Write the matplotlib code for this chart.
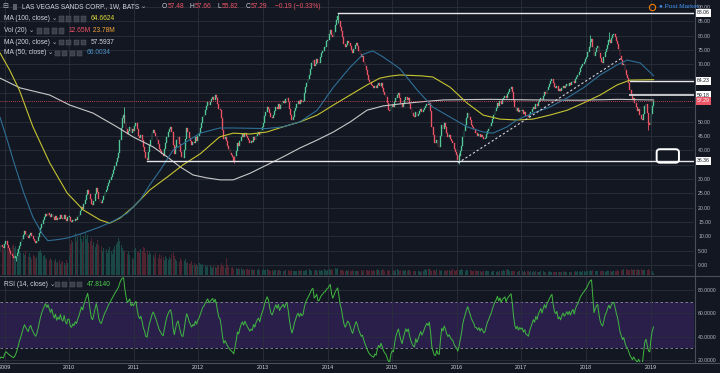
import numpy as np
import pandas as pd
import matplotlib
matplotlib.use("Agg")
import matplotlib.pyplot as plt
from matplotlib.lines import Line2D
from matplotlib.patches import Rectangle, FancyBboxPatch
import matplotlib.transforms as mtrans

plt.rcParams['font.family'] = ['Liberation Sans', 'DejaVu Sans']

# weekly closes (Jun 2008 .. Jan 2019); 2008 is warm-up for the RSI
c2008 = [58.0, 54.5, 50.2, 47.1, 45.8, 43.0, 47.6, 45.2, 49.8, 52.3, 50.1, 47.4, 44.6,
         41.2, 37.8, 39.5, 35.1, 28.4, 22.6, 15.8, 19.4, 12.1, 8.3, 4.6, 3.4, 4.8,
         6.4, 7.1, 6.2, 5.9]
c2009 = [7.4, 8.2, 7.0, 5.9, 4.8, 3.9, 3.1, 2.3, 2.6, 3.3, 4.2, 5.5, 6.8,
         7.9, 9.2, 10.6, 11.8, 10.9, 10.1, 9.4, 10.6, 11.2, 10.0, 9.1, 8.3, 7.7,
         8.4, 9.6, 11.2, 12.9, 14.3, 15.6, 16.8, 17.9, 17.1, 18.2, 17.4, 16.6, 17.8,
         16.7, 15.8, 17.0, 15.6, 16.5, 16.0, 17.4, 16.3, 15.9, 17.5, 16.2, 15.5, 16.8]
c2010 = [16.8, 15.2, 14.9, 15.7, 15.3, 16.2, 15.8, 16.9, 17.6, 18.8, 20.1, 19.6, 21.4,
         22.8, 24.5, 26.2, 24.9, 23.1, 21.2, 20.8, 22.4, 24.6, 26.8, 25.3, 23.0, 21.9,
         21.5, 22.8, 24.1, 25.3, 26.2, 27.4, 28.7, 29.5, 30.8, 31.9, 33.2, 34.6, 35.9,
         37.4, 39.2, 43.6, 47.9, 51.4, 52.3, 49.6, 47.4, 45.6, 46.8, 48.3, 46.2, 47.5, 46.9]
c2011 = [48.6, 49.7, 47.3, 45.1, 44.2, 45.3, 43.5, 41.0, 39.6, 37.2, 36.8, 39.4, 41.9,
         43.7, 45.9, 47.2, 46.1, 45.0, 43.6, 42.1, 40.5, 39.8, 38.7, 38.2, 40.4, 42.6,
         44.8, 46.3, 47.5, 48.1, 46.4, 42.0, 38.9, 41.3, 43.7, 44.6, 42.1, 39.5, 37.6,
         37.3, 40.2, 44.1, 47.8, 46.4, 44.3, 43.1, 41.8, 43.0, 42.4, 44.5, 43.2, 45.1]
c2012 = [46.0, 47.8, 49.6, 51.5, 52.4, 54.1, 55.6, 56.9, 55.8, 56.7, 57.9, 58.5, 57.6,
         59.4, 58.2, 56.3, 54.6, 54.1, 51.4, 47.2, 43.8, 44.6, 43.2, 41.5, 40.4, 39.1,
         38.3, 37.6, 36.4, 38.0, 39.8, 42.4, 41.6, 43.4, 44.8, 45.7, 44.6, 46.0, 45.1,
         44.2, 43.5, 42.7, 43.3, 42.9, 44.5, 43.7, 45.0, 45.8, 46.3, 45.4, 47.1, 48.3]
c2013 = [49.6, 51.9, 53.5, 55.2, 54.6, 53.0, 51.6, 51.2, 52.3, 53.8, 55.1, 54.3, 56.0,
         54.6, 55.8, 56.4, 57.2, 56.5, 57.9, 58.4, 56.9, 54.6, 52.4, 50.7, 51.8, 53.6,
         54.9, 56.3, 57.1, 56.2, 57.4, 56.8, 57.2, 59.9, 62.1, 63.6, 64.9, 66.4, 68.3,
         70.6, 71.5, 69.4, 70.3, 71.9, 70.4, 70.6, 72.5, 73.8, 74.6, 75.9, 76.2, 78.1]
c2014 = [78.6, 80.5, 82.1, 80.3, 79.4, 81.2, 83.6, 85.4, 86.9, 85.1, 83.0, 81.8, 79.4,
         77.2, 75.9, 76.8, 78.1, 77.6, 76.4, 74.9, 73.8, 75.2, 76.6, 77.5, 76.3, 74.7,
         73.6, 72.5, 72.8, 71.0, 69.4, 67.9, 66.2, 64.6, 63.7, 62.9, 62.3, 61.8, 62.4,
         61.7, 62.8, 63.5, 62.6, 63.4, 61.9, 60.3, 59.2, 58.5, 56.4, 54.1, 53.8, 55.2]
c2015 = [55.8, 55.2, 56.9, 58.4, 59.3, 60.1, 58.2, 56.4, 55.0, 56.3, 57.5, 58.6, 57.7,
         58.4, 56.2, 54.5, 53.1, 52.0, 51.6, 53.4, 51.9, 52.8, 53.6, 54.5, 53.3, 54.0,
         54.8, 55.6, 56.2, 55.7, 56.5, 53.8, 48.1, 45.3, 42.6, 42.4, 43.6, 41.2, 41.0,
         44.9, 48.8, 47.6, 49.5, 48.2, 46.0, 44.7, 45.3, 43.9, 43.1, 42.5, 40.6, 39.4]
c2016 = [38.5, 36.7, 37.9, 39.8, 41.6, 44.7, 46.9, 48.8, 51.2, 53.0, 51.7, 50.5, 49.0,
         48.2, 47.3, 46.0, 45.9, 45.1, 45.8, 44.6, 45.4, 44.8, 43.9, 44.3, 45.6, 46.8,
         47.5, 48.6, 49.5, 51.0, 52.4, 53.8, 54.7, 56.5, 55.6, 57.2, 56.3, 57.8, 58.3,
         59.0, 58.1, 59.7, 60.5, 61.3, 62.0, 60.4, 57.6, 55.1, 53.9, 54.7, 53.5, 54.2, 53.7]
c2017 = [54.0, 52.8, 53.4, 52.1, 51.9, 51.5, 52.6, 53.4, 54.3, 55.1, 54.6, 56.0, 55.4,
         56.8, 57.5, 58.4, 57.6, 58.9, 60.2, 59.6, 61.1, 62.0, 63.1, 64.2, 65.0, 63.4,
         62.1, 61.6, 62.3, 60.8, 61.3, 60.7, 61.8, 62.5, 61.9, 62.4, 63.1, 62.6, 63.4,
         62.8, 63.7, 64.2, 63.5, 64.8, 65.7, 66.3, 67.4, 68.6, 69.4, 70.2, 70.8, 71.9]
c2018 = [72.5, 74.3, 76.1, 77.9, 78.8, 76.2, 72.9, 74.4, 75.8, 76.3, 73.9, 72.1, 71.0,
         70.6, 72.4, 74.3, 75.2, 76.9, 78.4, 77.6, 79.2, 80.1, 80.5, 79.4, 78.1, 77.0,
         75.2, 72.8, 71.4, 69.8, 70.3, 68.1, 66.2, 65.4, 63.6, 61.2, 59.5, 57.7, 58.3,
         56.6, 55.2, 53.9, 54.5, 52.4, 51.0, 50.5, 52.8, 55.4, 56.2, 53.1, 49.6, 48.9]
c2019 = [52.7, 55.6, 57.29]

# weekly volume, millions
v2008 = [60, 65, 70, 72, 68, 75, 80, 78, 70, 66, 72, 80, 90, 105, 120,
         110, 140, 180, 220, 260, 240, 260, 280, 250, 230, 200, 180, 170, 160, 150]
v2009 = [165, 150, 172, 140, 158, 148, 170, 182, 160, 175, 155, 138, 145,
         130, 152, 128, 118, 140, 125, 110, 132, 105, 98, 120, 112, 95,
         108, 135, 142, 150, 128, 115, 122, 104, 96, 110, 88, 100, 92,
         78, 85, 96, 72, 80, 90, 68, 76, 84, 70, 62, 88, 74]
v2010 = [120, 185, 210, 195, 232, 248, 205, 226, 190, 240, 215, 198, 230,
         250, 212, 236, 188, 205, 222, 178, 196, 168, 185, 210, 176, 158,
         172, 145, 160, 138, 152, 130, 148, 165, 142, 126, 155, 170, 182,
         196, 220, 205, 178, 160, 142, 150, 132, 125, 140, 118, 112, 104, 98]
v2011 = [150, 162, 138, 145, 128, 155, 140, 166, 158, 132, 148, 120, 135,
         126, 142, 118, 110, 130, 112, 104, 125, 96, 118, 108, 92, 115,
         100, 88, 106, 95, 124, 138, 112, 98, 86, 94, 80, 102, 90,
         76, 84, 98, 70, 78, 66, 74, 82, 62, 70, 58, 66, 60]
v2012 = [72, 64, 58, 68, 55, 62, 50, 58, 46, 54, 48, 42, 52,
         46, 40, 56, 62, 48, 70, 58, 52, 44, 100, 62, 48, 55,
         42, 50, 38, 45, 40, 36, 44, 34, 40, 32, 38, 30, 36,
         34, 28, 33, 30, 38, 28, 32, 26, 30, 35, 27, 31, 29]
v2013 = [36, 30, 27, 33, 28, 31, 26, 29, 24, 30, 27, 25, 32,
         28, 24, 30, 26, 23, 29, 33, 27, 25, 22, 28, 24, 26,
         21, 25, 23, 27, 22, 30, 26, 24, 28, 32, 27, 35, 30,
         26, 29, 24, 31, 27, 25, 28, 23, 30, 26, 33, 28, 25]
v2014 = [30, 34, 28, 36, 31, 38, 42, 35, 40, 33, 29, 27, 31,
         26, 24, 28, 23, 30, 25, 22, 27, 24, 21, 26, 23, 25,
         22, 28, 24, 30, 33, 27, 29, 25, 31, 28, 24, 30, 26,
         29, 34, 27, 25, 31, 36, 28, 26, 32, 29, 24, 27, 23]
v2015 = [26, 30, 24, 28, 33, 27, 25, 29, 23, 27, 25, 30, 26,
         31, 28, 24, 27, 22, 26, 24, 21, 25, 23, 20, 24, 22,
         27, 34, 30, 38, 33, 29, 26, 31, 28, 24, 35, 30, 27,
         25, 29, 26, 23, 28, 25, 31, 27, 24, 30, 33, 28, 26]
v2016 = [30, 35, 32, 28, 34, 31, 29, 26, 30, 27, 25, 28, 24,
         26, 23, 27, 22, 25, 21, 24, 20, 23, 26, 22, 25, 21,
         24, 22, 19, 23, 21, 25, 20, 22, 19, 24, 21, 23, 27,
         25, 30, 36, 28, 24, 26, 22, 25, 21, 23, 20, 24, 22, 21]
v2017 = [22, 19, 23, 20, 24, 21, 18, 22, 20, 23, 19, 21, 18,
         20, 17, 21, 19, 22, 18, 20, 17, 19, 21, 18, 20, 17,
         19, 16, 18, 20, 17, 19, 16, 18, 21, 17, 19, 16, 18,
         20, 17, 22, 19, 21, 18, 23, 20, 22, 19, 24, 21, 20]
v2018 = [23, 26, 22, 28, 25, 30, 27, 24, 22, 26, 23, 21, 25,
         22, 24, 20, 23, 21, 25, 22, 20, 24, 21, 23, 26, 29,
         25, 28, 31, 27, 33, 30, 34, 29, 32, 28, 35, 31, 30,
         33, 29, 36, 32, 30, 34, 28, 31, 27, 33, 30, 35, 29]
v2019 = [28, 24, 13]

# a few visible wicks: (week, high, low)
wicks = [('2009-03-06', 3.2, 1.4), ('2010-11-05', 55.3, 49.5), ('2012-07-20', 38.2, 35.6),
         ('2014-02-28', 88.06, 84.5), ('2016-01-15', 39.0, 35.3), ('2018-01-26', 80.2, 76.0),
         ('2018-05-11', 81.3, 78.2), ('2018-12-21', 50.9, 47.2)]

# moving averages (decimal year, value)
ma50 = [(2008.93, 51.6), (2009.05, 43.0), (2009.15, 35.5), (2009.3, 25.0), (2009.44, 16.7),
        (2009.58, 11.0), (2009.67, 8.5), (2009.8, 8.8), (2009.97, 9.4), (2010.2, 11.0),
        (2010.48, 13.3), (2010.7, 15.5), (2010.9, 18.1), (2011.1, 22.7), (2011.25, 28.0),
        (2011.41, 33.1), (2011.61, 40.1), (2011.85, 43.5), (2012.03, 46.0), (2012.33, 47.8),
        (2012.55, 47.8), (2012.8, 47.7), (2013.05, 47.6), (2013.31, 48.2), (2013.57, 49.9),
        (2013.84, 54.0), (2014.09, 62.0), (2014.35, 69.0), (2014.55, 73.5), (2014.7, 74.7),
        (2014.86, 72.6), (2015.12, 68.5), (2015.39, 61.0), (2015.63, 55.1), (2015.9, 51.6),
        (2016.16, 48.2), (2016.41, 46.4), (2016.56, 46.0), (2016.78, 48.2), (2016.93, 50.6),
        (2017.18, 53.0), (2017.44, 55.1), (2017.71, 58.3), (2017.96, 61.8), (2018.22, 66.3),
        (2018.48, 69.8), (2018.64, 71.5), (2018.84, 70.5), (2019.05, 66.0)]
ma100 = [(2008.93, 74.0), (2009.08, 68.0), (2009.23, 61.0), (2009.44, 48.2), (2009.7, 35.6),
         (2009.97, 25.1), (2010.22, 19.2), (2010.48, 15.7), (2010.63, 14.6), (2010.79, 16.4),
         (2010.99, 20.2), (2011.25, 26.2), (2011.52, 30.7), (2011.76, 34.9), (2012.03, 38.8),
         (2012.33, 44.7), (2012.54, 46.0), (2012.8, 45.7), (2013.06, 46.4), (2013.31, 48.2),
         (2013.57, 49.9), (2013.84, 52.3), (2014.09, 55.8), (2014.35, 59.3), (2014.61, 62.8),
         (2014.81, 65.2), (2014.97, 65.9), (2015.12, 66.3), (2015.45, 66.0), (2015.63, 65.6),
         (2015.9, 62.0), (2016.16, 56.5), (2016.41, 52.3), (2016.67, 50.9), (2016.93, 50.6),
         (2017.18, 50.9), (2017.44, 52.3), (2017.71, 54.0), (2017.96, 56.5), (2018.22, 59.3),
         (2018.48, 62.8), (2018.68, 64.5), (2019.05, 64.66)]
ma200 = [(2008.93, 65.2), (2009.24, 61.8), (2009.7, 59.3), (2010.01, 55.8), (2010.37, 53.0),
         (2010.74, 48.2), (2010.99, 44.7), (2011.3, 41.2), (2011.52, 37.7), (2011.72, 34.2),
         (2011.92, 31.4), (2012.13, 30.4), (2012.34, 29.7), (2012.54, 29.7), (2012.8, 32.0),
         (2013.06, 34.9), (2013.31, 37.7), (2013.57, 40.8), (2013.84, 43.6), (2014.09, 46.4),
         (2014.35, 49.9), (2014.61, 54.0), (2014.86, 55.5), (2015.12, 56.2), (2015.43, 56.9),
         (2015.8, 57.6), (2016.5, 57.8), (2017.2, 57.6), (2017.9, 57.5), (2018.5, 57.8),
         (2019.05, 57.59)]

# drawn levels
levels = [(88.06, 2014.16), (64.23, 2018.68), (59.18, 2018.68), (36.36, 2011.2)]
last_price = 57.29
trend = [(2016.02, 35.6), (2018.54, 72.0)]
box_zone = (2019.095, 35.7, 2019.44, 40.4)

BG = '#131722'
GRID = '#2b2f3b'
TXT = '#b2b5be'
LIGHT = '#d1d4dc'
UP = '#53c99a'
DN = '#ec5566'

close = np.array(c2008 + c2009 + c2010 + c2011 + c2012 + c2013 + c2014 +
                 c2015 + c2016 + c2017 + c2018 + c2019)
vol = np.array(v2008 + v2009 + v2010 + v2011 + v2012 + v2013 + v2014 +
               v2015 + v2016 + v2017 + v2018 + v2019)
dates = pd.date_range(end='2019-01-18', periods=len(close), freq='W-FRI')
t = 2009 + (dates - pd.Timestamp('2009-01-01')).days.values / 365.25
wk = 7 / 365.25

opens = np.r_[close[0], close[:-1]]
up = close >= opens

# RSI 14 (Wilder)
d = np.diff(close, prepend=close[0])
g = pd.Series(np.clip(d, 0, None)).ewm(alpha=1 / 14, adjust=False).mean()
l = pd.Series(np.clip(-d, 0, None)).ewm(alpha=1 / 14, adjust=False).mean()
rsi = (100 - 100 / (1 + g / l)).values

W, H = 720, 373
fig = plt.figure(figsize=(7.2, 3.73), dpi=100, facecolor=BG)


def fx(p):
    return p / W


def fy(p):
    return 1 - p / H


main_box = [0, fy(275), fx(694), fy(0) - fy(275)]
rsi_box = [0, fy(362), fx(694), fy(276) - fy(362)]
XL = (2008.930, 2019.673)
PL = (-3.49, 92.46)
years = list(range(2009, 2020))

# background + grid + price scale
ax_bg = fig.add_axes(main_box, facecolor=BG)
ax_bg.set_xlim(XL)
ax_bg.set_ylim(PL)
ax_bg.set_xticks(years)
yt = np.arange(0, 95, 5)
ax_bg.set_yticks(yt)
ax_bg.set_yticklabels(['' if v in (35, 55, 60, 65) else f'{v:.2f}' for v in yt])
ax_bg.yaxis.tick_right()
ax_bg.grid(True, color=GRID, lw=0.6)
ax_bg.tick_params(length=0, labelbottom=False, labelsize=3.7, labelcolor=TXT, pad=3)
for s in ax_bg.spines.values():
    s.set_visible(False)

# volume
ax_vol = fig.add_axes(main_box, facecolor='none')
ax_vol.set_xlim(XL)
ax_vol.set_ylim(0, 1637)
ax_vol.bar(t, vol, width=wk * 0.75, color=np.where(up, '#1a4846', '#4f2430'), lw=0)
ax_vol.axis('off')

# price
ax = fig.add_axes(main_box, facecolor='none')
ax.set_xlim(XL)
ax.set_ylim(PL)
ax.axis('off')

hi = np.maximum(opens, close)
lo = np.minimum(opens, close)
hgt = np.maximum(hi - lo, 0.15)
ax.bar(t[up], hgt[up], bottom=lo[up], width=wk * 0.72, color=UP, edgecolor=UP, lw=0.25, zorder=2)
ax.bar(t[~up], hgt[~up], bottom=lo[~up], width=wk * 0.72, color=DN, edgecolor=DN, lw=0.25, zorder=2)
for day, whi, wlo in wicks:
    i = np.abs(dates - pd.Timestamp(day)).argmin()
    ax.vlines(t[i], wlo, whi, color=UP if up[i] else DN, lw=0.6, zorder=2)

for pts, col, lw in [(ma200, '#c8c8c8', 0.8), (ma100, '#c6c431', 0.8), (ma50, '#2f6f95', 0.8)]:
    xs, ys = zip(*pts)
    ax.plot(xs, ys, color=col, lw=lw, zorder=3, solid_capstyle='round')

ax.axhline(last_price, color=DN, lw=0.6, ls=(0, (1, 1.5)), zorder=3)
for val, start in levels:
    ax.plot([start, XL[1]], [val, val], color='#e8e8ea' if val != 59.18 else '#c4c6cc',
            lw=1.0 if val != 59.18 else 1.4, zorder=4)
(tx0, ty0), (tx1, ty1) = trend
ax.plot([tx0, tx1], [ty0, ty1], color=LIGHT, lw=0.8, ls=(0, (2, 2)), zorder=4)
bx0, by0, bx1, by1 = box_zone
ax.add_patch(FancyBboxPatch((bx0, by0), bx1 - bx0, by1 - by0,
                            boxstyle='round,pad=0,rounding_size=0.05', mutation_aspect=22,
                            fc='none', ec='white', lw=1.4, zorder=5, clip_on=False))

# price labels on the scale
bt = mtrans.blended_transform_factory(ax.transAxes, ax.transData)
for val, _ in levels:
    ax.text(1.0 + 3 / 694, val, f'{val:.2f}', transform=bt, fontsize=3.7, color=BG,
            va='center', ha='left', clip_on=False, zorder=6,
            bbox=dict(boxstyle='square,pad=0.3', fc='white', ec='none'))
ax.text(1.0 + 3 / 694, last_price, f'{last_price:.2f}', transform=bt, fontsize=3.7,
        color='white', va='center', ha='left', clip_on=False, zorder=7,
        bbox=dict(boxstyle='square,pad=0.3', fc=DN, ec='none'))

# RSI pane
axr = fig.add_axes(rsi_box, facecolor=BG)
axr.set_xlim(XL)
axr.set_ylim(18.3, 92.0)
axr.set_xticks(years)
axr.set_xticklabels([str(y) for y in years])
axr.set_yticks([20, 40, 60, 80])
axr.set_yticklabels(['20.0000', '40.0000', '60.0000', '80.0000'])
axr.yaxis.tick_right()
axr.grid(True, color=GRID, lw=0.6)
axr.tick_params(length=0, labelsize=3.7, labelcolor=TXT, pad=3)
axr.tick_params(axis='x', labelcolor=LIGHT, labelsize=3.9, pad=2.5)
for s in axr.spines.values():
    s.set_visible(False)
axr.axhspan(30, 70, color='#2a1f4b', zorder=0.5, lw=0)
for lv in (30, 70):
    axr.axhline(lv, color='#8a8d96', lw=0.6, ls=(0, (3, 3)), zorder=1)
axr.plot(t, rsi, color='#40b840', lw=0.7, zorder=3)

# pane separators
SEP = '#4a4e5a'
fig.add_artist(Line2D([fx(694.5)] * 2, [fy(0), fy(362.5)], color=SEP, lw=0.8))
fig.add_artist(Line2D([0, 1], [fy(275.5)] * 2, color=SEP, lw=0.8))
fig.add_artist(Line2D([0, 1], [fy(362.5)] * 2, color=SEP, lw=0.8))

# legend texts
renderer = fig.canvas.get_renderer()
FS = 4.8


def run(x, y, pieces):
    for s, col in pieces:
        tt = fig.text(fx(x), fy(y), s, fontsize=FS, color=col, va='center', ha='left')
        x += tt.get_window_extent(renderer).width
    return x


def icons(x, y):
    for k in range(4):
        fig.add_artist(Rectangle((fx(x + k * 7.3), fy(y + 2.5)), fx(5), 5 / H,
                                 transform=fig.transFigure, fc='#3a3e4a', ec='#60636e', lw=0.3))


fig.text(fx(2), fy(7), '⊟', fontsize=5, color=TXT, va='center', ha='left')
fig.add_artist(Rectangle((fx(13), fy(9.5)), fx(4.5), 5 / H, transform=fig.transFigure,
                         fc='#5d606b', ec='none'))
run(22, 7, [('LAS VEGAS SANDS CORP., 1W, BATS', LIGHT), (' ⌄', TXT)])
ohlc = [(162, 'O', '57.48'), (190, 'H', '57.66'), (218, 'L', '55.82'), (246, 'C', '57.29')]
for x0, k, v in ohlc:
    run(x0, 7, [(k, LIGHT), (v, DN)])
run(275, 7, [('−0.19 (−0.33%)', DN)])

rows = [(19, 'MA (100, close)', 59, [('64.6624', '#e0dc3a')]),
        (31, 'Vol (20)', 37, [('12.65M', DN), (' 23.78M', '#f0a23a')]),
        (42, 'MA (200, close)', 59, [('57.5937', LIGHT)]),
        (53, 'MA (50, close)', 55, [('66.0034', '#4b93c4')]),
        (284, 'RSI (14, close)', 55, [('47.8140', '#4cd04c')])]
for y, label, ix, vals in rows:
    run(4, y, [(label, LIGHT), (' ⌄', TXT)])
    icons(ix, y)
    run(ix + 32, y, vals)

# post market badge
fig.add_artist(Line2D([fx(652)], [fy(7)], marker='o', ms=4.5, mfc='none', mec='#f57c00',
                      mew=0.8, transform=fig.transFigure))
fig.text(fx(659), fy(7), '● Post Market', fontsize=4.6, color='#3d8ee8', va='center', ha='left')

fig.savefig('out.png', dpi=100, facecolor=BG)
